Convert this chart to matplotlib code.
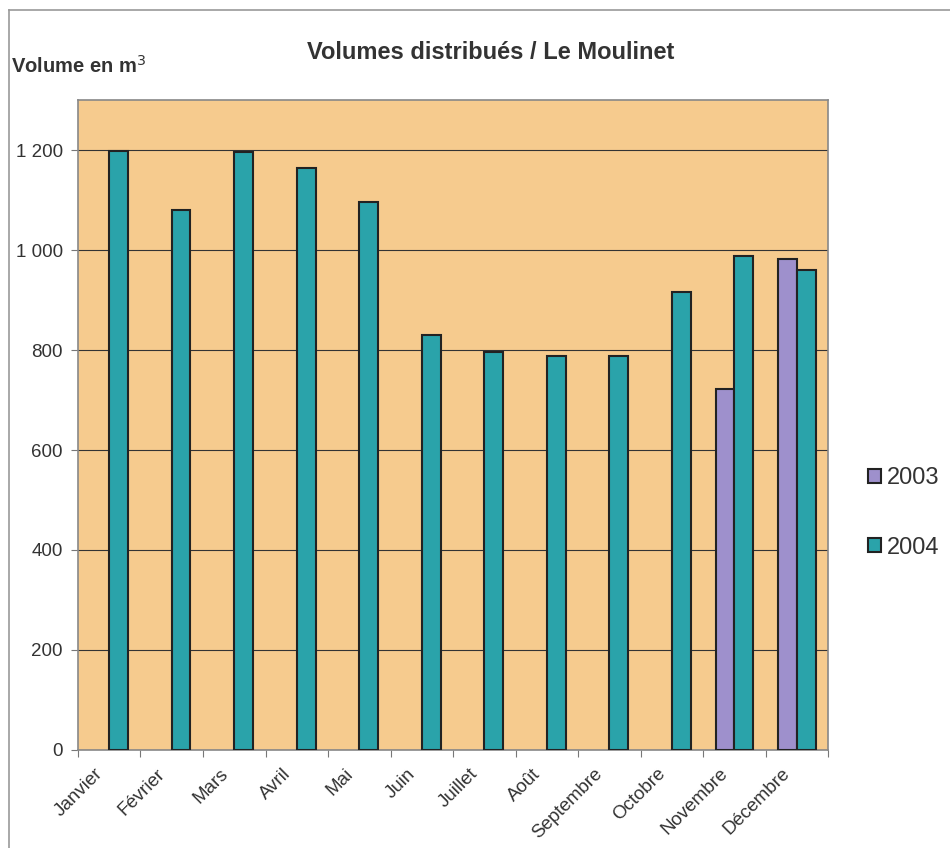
import numpy as np
import matplotlib.pyplot as plt
import matplotlib.transforms as mtrans
from matplotlib.lines import Line2D
from matplotlib.ticker import FuncFormatter

plt.rcParams['font.family'] = ['Liberation Sans', 'DejaVu Sans']

mois = ["Janvier", "Février", "Mars", "Avril", "Mai", "Juin", "Juillet",
        "Août", "Septembre", "Octobre", "Novembre", "Décembre"]
vol_2003 = [0, 0, 0, 0, 0, 0, 0, 0, 0, 0, 723, 982]
vol_2004 = [1198, 1080, 1196, 1164, 1096, 830, 796, 788, 788, 917, 988, 961]

c_fond = "#F6CB8E"
c_2003 = "#9E90CC"
c_2004 = "#2AA3AA"
c_texte = "#333333"

fig = plt.figure(figsize=(9.5, 8.48), dpi=100)
ax = fig.add_axes([0.0821, 0.1156, 0.7895, 0.7664])
ax.set_facecolor(c_fond)

x = np.arange(len(mois))
w = 0.3
v03 = np.array(vol_2003, dtype=float)
ax.bar(x[v03 > 0] - w / 2, v03[v03 > 0], w, color=c_2003, edgecolor="#222222",
       linewidth=1.5, label="2003", zorder=3)
ax.bar(x + w / 2, vol_2004, w, color=c_2004, edgecolor="#222222",
       linewidth=1.5, label="2004", zorder=3)

ax.set_xlim(-0.5, len(mois) - 0.5)
ax.set_ylim(0, 1300)
ax.set_yticks(range(0, 1201, 200))
ax.yaxis.set_major_formatter(FuncFormatter(lambda v, p: f"{int(v):,}".replace(",", " ")))
ax.grid(axis="y", color="#333333", linewidth=0.8, zorder=1)

# ticks aux limites des mois, libellés au centre
ax.set_xticks(np.arange(-0.5, len(mois), 1))
ax.set_xticklabels([])
ax.set_xticks(x, minor=True)
ax.set_xticklabels(mois, minor=True, rotation=45, ha="right",
                   rotation_mode="anchor", fontsize=13.5, color=c_texte)
ax.tick_params(axis="x", which="minor", length=0, pad=11)
ax.tick_params(axis="x", which="major", length=5, color="#777777")
ax.tick_params(axis="y", length=5, color="#777777", labelsize=13.5,
               labelcolor=c_texte, pad=6)

decal = mtrans.ScaledTranslation(-15 / 100, 0, fig.dpi_scale_trans)
for lab in ax.get_xticklabels(minor=True):
    lab.set_transform(lab.get_transform() + decal)

for s in ax.spines.values():
    s.set_color("#888888")
    s.set_linewidth(1.2)

fig.text(0.516, 0.938, "Volumes distribués / Le Moulinet", ha="center",
         va="center", fontsize=17, fontweight="bold", color=c_texte)
fig.text(0.012, 0.922, "Volume en m$^3$", ha="left", va="center",
         fontsize=14.5, fontweight="bold", color=c_texte)

leg = fig.legend(loc="center left", bbox_to_anchor=(0.914, 0.395),
                 frameon=False, fontsize=17, labelspacing=2.0,
                 handlelength=0.55, handleheight=0.55, handletextpad=0.25,
                 borderpad=0, borderaxespad=0)
for t in leg.get_texts():
    t.set_color(c_texte)

# cadre de la page
fig.add_artist(Line2D([0.0095, 1.0], [0.988, 0.988], color="#999999", linewidth=1.2))
fig.add_artist(Line2D([0.0095, 0.0095], [0.0, 0.988], color="#999999", linewidth=1.2))

fig.savefig("out.png", dpi=100)
